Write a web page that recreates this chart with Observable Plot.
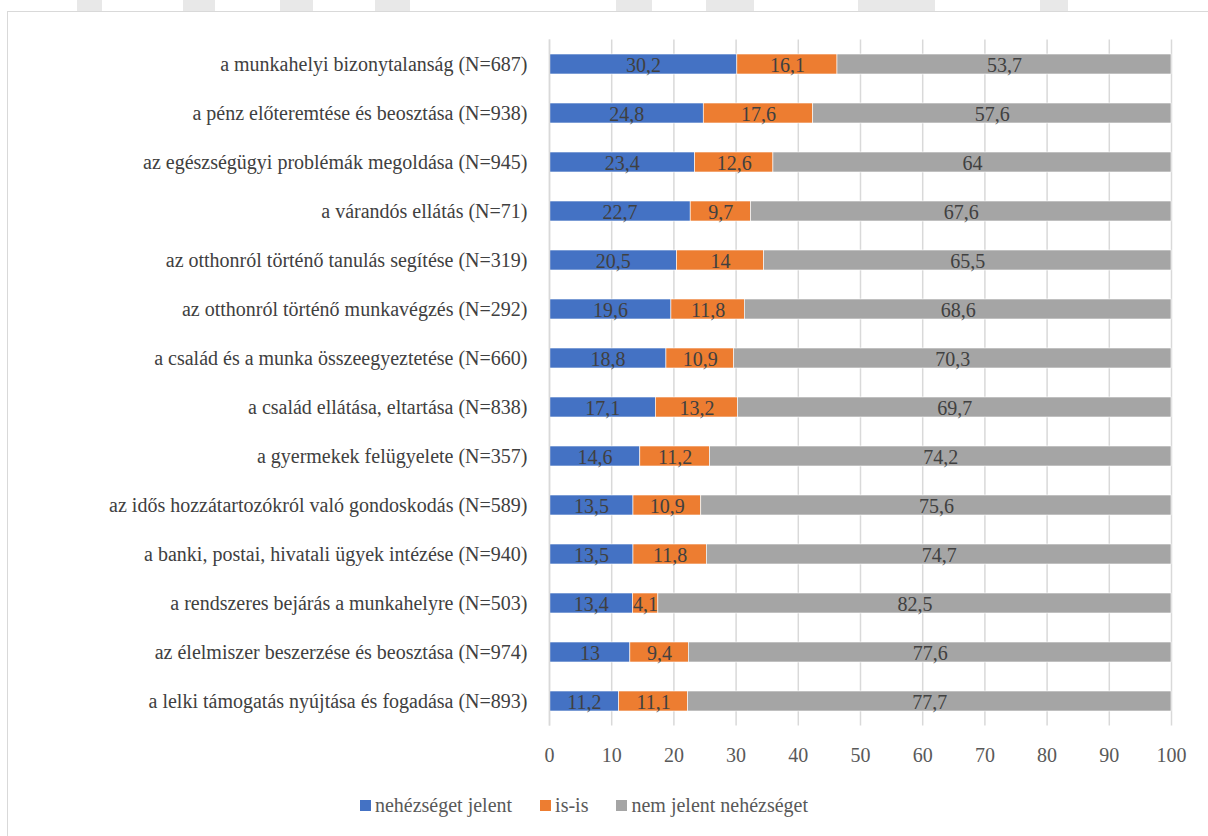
<!DOCTYPE html>
<html>
<head>
<meta charset="utf-8">
<script src="https://cdn.jsdelivr.net/npm/d3@7"></script>
<script src="https://cdn.jsdelivr.net/npm/@observablehq/plot@0.6"></script>
</head>
<body style="margin:0;padding:0;background:#fff;font-family:'Liberation Serif'">
<div id="wrap" style="position:relative;width:1208px;height:836px;overflow:hidden;font-family:'Liberation Serif'">
  <div id="frame" style="position:absolute;left:7px;top:11px;width:1220px;height:840px;border:1px solid #d9d9d9;background:#fff;box-sizing:border-box"></div>
  <div id="chart" style="position:absolute;left:0;top:0"></div>
  <div id="legend" style="position:absolute;top:794px;left:0;width:1168px;display:flex;justify-content:center;gap:28px;font-size:20px;color:#595959;font-family:'Liberation Serif'"></div>
</div>
<script>
const categories = [
  "a munkahelyi bizonytalanság (N=687)",
  "a pénz előteremtése és beosztása (N=938)",
  "az egészségügyi problémák megoldása (N=945)",
  "a várandós ellátás (N=71)",
  "az otthonról történő tanulás segítése (N=319)",
  "az otthonról történő munkavégzés (N=292)",
  "a család és a munka összeegyeztetése (N=660)",
  "a család ellátása, eltartása (N=838)",
  "a gyermekek felügyelete (N=357)",
  "az idős hozzátartozókról való gondoskodás (N=589)",
  "a banki, postai, hivatali ügyek intézése (N=940)",
  "a rendszeres bejárás a munkahelyre (N=503)",
  "az élelmiszer beszerzése és beosztása (N=974)",
  "a lelki támogatás nyújtása és fogadása (N=893)"
];
const seriesNames = ["nehézséget jelent", "is-is", "nem jelent nehézséget"];
const nehezseg = [30.2, 24.8, 23.4, 22.7, 20.5, 19.6, 18.8, 17.1, 14.6, 13.5, 13.5, 13.4, 13, 11.2];
const isis     = [16.1, 17.6, 12.6, 9.7, 14, 11.8, 10.9, 13.2, 11.2, 10.9, 11.8, 4.1, 9.4, 11.1];
const nem      = [53.7, 57.6, 64, 67.6, 65.5, 68.6, 70.3, 69.7, 74.2, 75.6, 74.7, 82.5, 77.6, 77.7];
const colors = ["#4472C4", "#ED7D31", "#A5A5A5"];
const xTicks = [0, 10, 20, 30, 40, 50, 60, 70, 80, 90, 100];

// decorative watermark bands above the chart frame
const wmLeft = [77, 183, 280, 375, 616, 706, 858, 1040];
const wmWidth = [25, 32, 33, 35, 36, 48, 77, 28];
const wrap = document.getElementById("wrap");
wmLeft.forEach((l, i) => {
  const d = document.createElement("div");
  d.style.cssText = `position:absolute;top:0;height:11px;left:${l}px;width:${wmWidth[i]}px;background:#e8e8e8`;
  wrap.insertBefore(d, wrap.firstChild);
});

const seriesValues = [nehezseg, isis, nem];
const data = [];
categories.forEach((c, i) => {
  seriesNames.forEach((s, j) => data.push({cat: c, series: s, value: seriesValues[j][i]}));
});
const fmt = d => String(d).replace(".", ",");
const FF = "Liberation Serif";

const chart = Plot.plot({
  width: 1208,
  height: 780,
  marginLeft: 549,
  marginRight: 37,
  marginTop: 39.5,
  marginBottom: 54.5,
  x: {domain: [0, 100], ticks: xTicks, label: null},
  y: {domain: categories, paddingInner: 0.59, paddingOuter: 0.295, label: null},
  color: {domain: seriesNames, range: colors},
  marks: [
    Plot.gridX(xTicks, {stroke: "#d9d9d9", strokeOpacity: 1, strokeWidth: 1.5}),
    Plot.barX(data, Plot.stackX({y: "cat", x: "value", fill: "series", order: seriesNames, stroke: "#fff", strokeWidth: 0.6})),
    Plot.text(data, Plot.stackX({y: "cat", x: "value", z: "series", order: seriesNames, text: d => fmt(d.value), fill: "#404040", fontSize: 20, fontFamily: FF, dy: 1})),
    Plot.axisX(xTicks, {tickSize: 0, tickPadding: 22, fontSize: 20, fontFamily: FF, color: "#595959", tickFormat: d => String(d), label: null}),
    Plot.axisY({tickSize: 0, tickPadding: 22, fontSize: 20, fontFamily: FF, color: "#404040", label: null}),
    Plot.ruleX([0], {stroke: "#d9d9d9", strokeWidth: 1.5})
  ]
});
chart.style.background = "transparent";
chart.setAttribute("font-family", FF);
document.getElementById("chart").appendChild(chart);

const legend = document.getElementById("legend");
seriesNames.forEach((s, j) => {
  const item = document.createElement("span");
  item.style.cssText = "display:inline-flex;align-items:center;font-family:'Liberation Serif'";
  const sw = document.createElement("span");
  sw.style.cssText = `width:11px;height:11px;display:inline-block;margin-right:4px;background:${colors[j]}`;
  item.appendChild(sw);
  item.appendChild(document.createTextNode(s));
  legend.appendChild(item);
});
</script>
</body>
</html>
